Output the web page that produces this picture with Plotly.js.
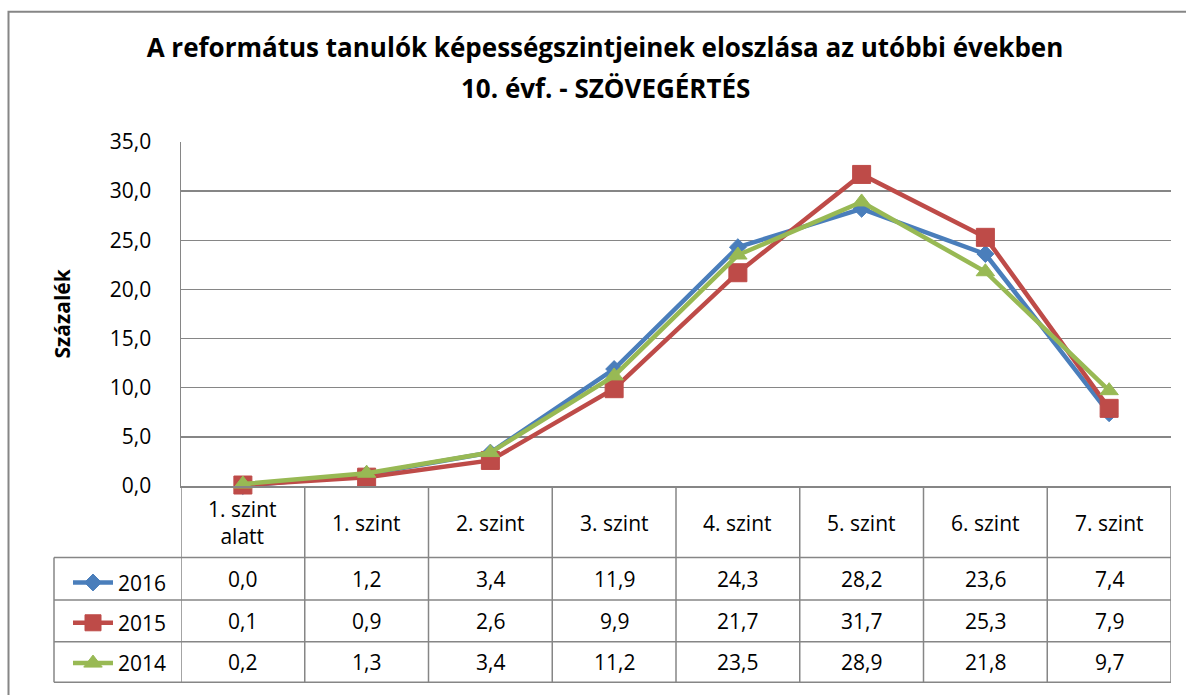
<!DOCTYPE html>
<html>
<head>
<meta charset="utf-8">
<script src="https://cdn.plot.ly/plotly-3.0.1.min.js"></script>
<style>html,body{margin:0;padding:0;background:#fff;}#chart{width:1186px;height:695px;}</style>
</head>
<body>
<div id="chart"></div>
<script>
// ---- data ----
const categories = ["1. szint alatt", "1. szint", "2. szint", "3. szint", "4. szint", "5. szint", "6. szint", "7. szint"];
const categoryLabels = ["1. szint<br>alatt", "1. szint", "2. szint", "3. szint", "4. szint", "5. szint", "6. szint", "7. szint"];
const seriesNames = ["2016", "2015", "2014"];
const values2016 = [0.0, 1.2, 3.4, 11.9, 24.3, 28.2, 23.6, 7.4];
const values2015 = [0.1, 0.9, 2.6, 9.9, 21.7, 31.7, 25.3, 7.9];
const values2014 = [0.2, 1.3, 3.4, 11.2, 23.5, 28.9, 21.8, 9.7];
const yTicks = [0, 5, 10, 15, 20, 25, 30, 35];
const titleLine1 = "A református tanulók képességszintjeinek eloszlása az utóbbi években";
const titleLine2 = "10. évf. - SZÖVEGÉRTÉS";
const yTitle = "Százalék";

// ---- layout geometry ----
const W = 1186, H = 695;
const L = 181, R = 1171, T = 142, B = 489;
const FONT = "'Open Sans', sans-serif";
const GRID = "#868686";
const px = x => (x - L) / (R - L);
const py = y => (B - y) / (B - T);

const seriesValues = [values2016, values2015, values2014];
const colors = ["#4A7EBB", "#BE4B48", "#98B954"];
const symbols = ["diamond", "square", "triangle-up"];
const sizes = [13, 18, 16];

const traces = seriesValues.map((vals, i) => ({
  type: "scatter", mode: "lines+markers",
  name: seriesNames[i], x: categories, y: vals,
  legendgroup: "g" + i,
  line: {color: colors[i], width: 4.5},
  marker: {symbol: symbols[i], size: sizes[i], color: colors[i], line: {color: colors[i], width: 1}},
  cliponaxis: false
}));

const fmt = v => v.toFixed(1).replace(".", ",");
const rowCenters = [582.5, 625, 666.5];
const rowLines = [561, 604, 646, 687];
const TXT = {family: FONT, size: 21, color: "#000"};

const annotations = [];
categories.forEach((c, j) => {
  annotations.push({xref: "x", yref: "paper", x: c, y: py(526), text: categoryLabels[j],
    showarrow: false, font: TXT, xanchor: "center", yanchor: "middle"});
  seriesValues.forEach((vals, i) => {
    annotations.push({xref: "x", yref: "paper", x: c, y: py(rowCenters[i]), text: fmt(vals[j]),
      showarrow: false, font: TXT, xanchor: "center", yanchor: "middle"});
  });
});
annotations.push({xref: "paper", yref: "paper", x: px(62), y: py(315), text: "<b>" + yTitle + "</b>",
  textangle: -90, showarrow: false, font: {family: FONT, size: 21, color: "#000"}, xanchor: "center", yanchor: "middle"});
annotations.push({xref: "paper", yref: "paper", x: px(605), y: py(88), text: "<b>" + titleLine2 + "</b>",
  showarrow: false, font: {family: FONT, size: 26, color: "#000"}, xanchor: "center", yanchor: "middle"});

const shapes = [];
// outer frame
shapes.push({type: "path", xref: "paper", yref: "paper",
  path: `M ${px(8.5)},${py(720)} L ${px(8.5)},${py(10.5)} L ${px(1200)},${py(10.5)}`,
  line: {color: GRID, width: 2}});
// table horizontal lines
rowLines.forEach(y => shapes.push({type: "line", xref: "paper", yref: "paper",
  x0: px(54), x1: 1, y0: py(y), y1: py(y), line: {color: GRID, width: 1.5}}));
// table vertical lines between categories
for (let k = 0; k <= categories.length; k++) {
  shapes.push({type: "line", xref: "x", yref: "paper", x0: k - 0.5, x1: k - 0.5,
    y0: py(B), y1: py(687), line: {color: GRID, width: 1.5}});
}
// left column outer line
shapes.push({type: "line", xref: "paper", yref: "paper", x0: px(54), x1: px(54),
  y0: py(561), y1: py(687), line: {color: GRID, width: 1.5}});

const layout = {
  width: W, height: H,
  margin: {l: L, r: W - R, t: T, b: H - B, pad: 0},
  paper_bgcolor: "#fff", plot_bgcolor: "#fff",
  separators: ", ",
  showlegend: true,
  title: {text: "<b>" + titleLine1 + "</b>", x: 605 / W, xanchor: "center", y: 1 - 48 / H, yanchor: "middle",
    font: {family: FONT, size: 26, color: "#000"}},
  xaxis: {type: "category", range: [-0.5, categories.length - 0.5], showticklabels: false,
    showgrid: false, showline: true, linecolor: GRID, linewidth: 1.5, zeroline: false, fixedrange: true},
  yaxis: {range: [0, 35], tickvals: yTicks, tickformat: ".1f", showgrid: true, gridcolor: GRID, gridwidth: 1.5,
    showline: true, linecolor: GRID, linewidth: 1.5, zeroline: false, ticks: "", ticklabelstandoff: 24,
    tickfont: TXT},
  legend: {x: px(68), xanchor: "left", y: py(566), yanchor: "top", traceorder: "grouped", tracegroupgap: 10,
    itemwidth: 40,
    font: TXT, bgcolor: "rgba(0,0,0,0)", borderwidth: 0, itemclick: false},
  annotations: annotations,
  shapes: shapes
};

Plotly.newPlot("chart", traces, layout, {displayModeBar: false, staticPlot: true});
</script>
</body>
</html>
